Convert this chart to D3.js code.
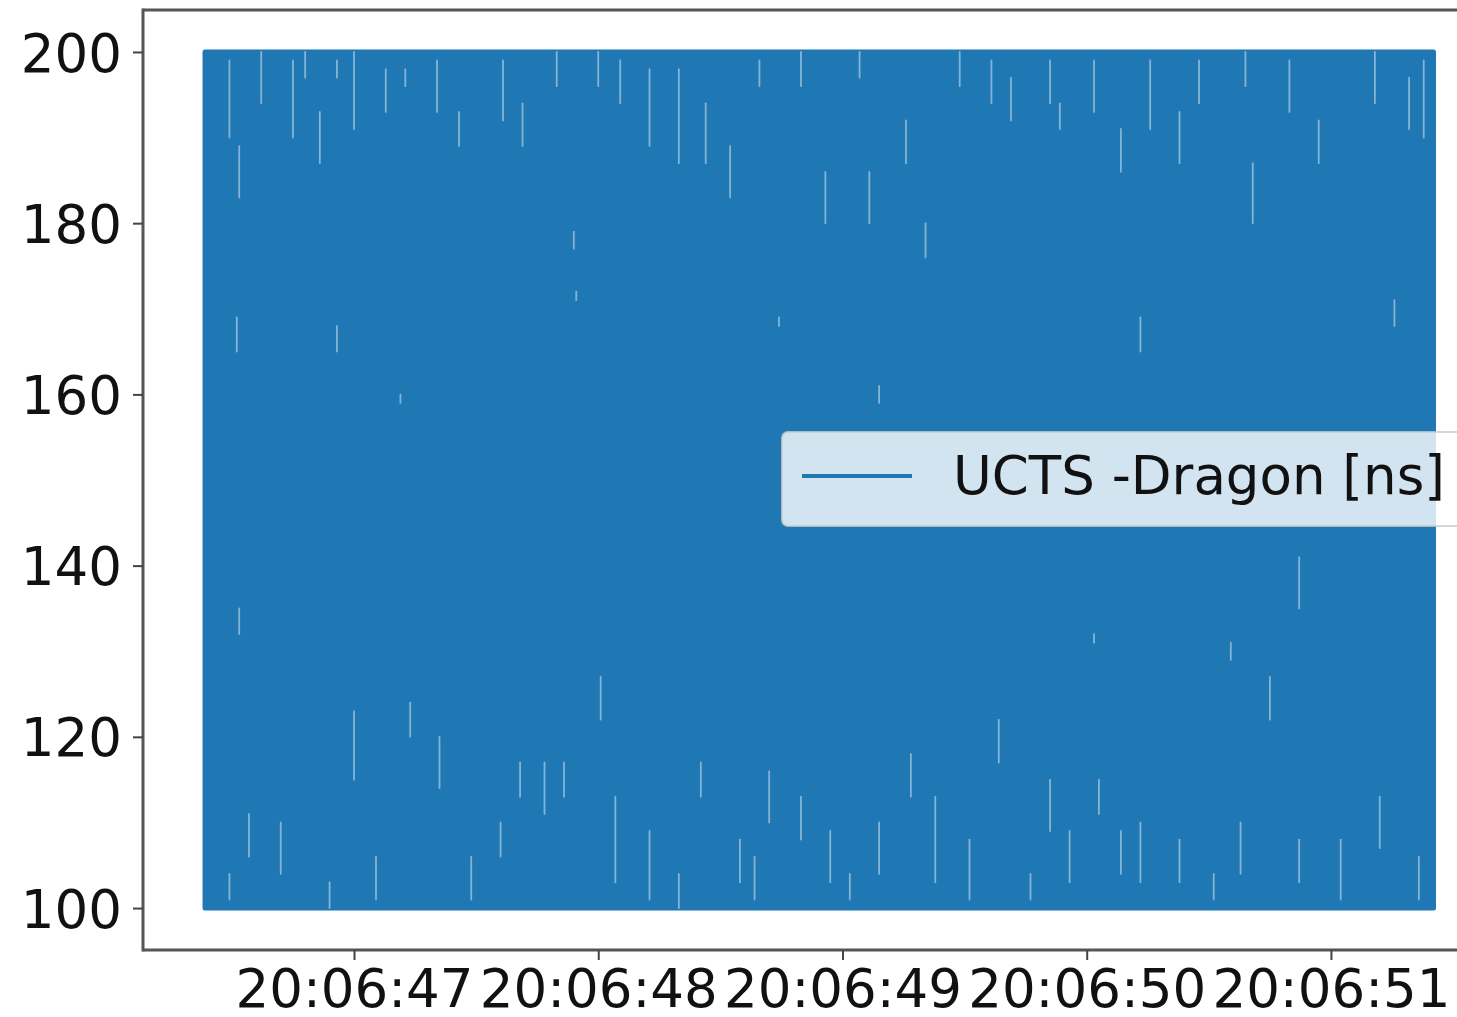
<!DOCTYPE html>
<html>
<head>
<meta charset="utf-8">
<style>
  body { margin: 0; background: #fff; }
  text { font-family: "DejaVu Sans", sans-serif; }
</style>
</head>
<body>
<div id="container"></div>
<script src="https://cdn.jsdelivr.net/npm/d3@7"></script>
<script>

// series (seconds after 20:06:00, values in ns)
const seriesName = "UCTS -Dragon [ns]";
const envelopeSec = [46.39, 51.42];
const envelopeLow = [100, 100];
const envelopeHigh = [200, 200];

// light gaps in the dense trace: [second, low ns, high ns]
const gaps = [
  [46.49,190,199],[46.53,183,189],[46.62,194,200],[46.75,190,199],[46.80,197,200],
  [46.86,187,193],[46.93,197,199],[47.00,191,200],[47.13,193,198],[47.21,196,198],
  [47.34,193,199],[47.43,189,193],[47.61,192,199],[47.69,189,194],[47.83,196,200],
  [47.90,177,179],[48.00,196,200],[48.09,194,199],[48.21,189,198],[48.33,187,198],
  [48.44,187,194],[48.54,183,189],[48.66,196,199],[48.83,196,200],[48.93,180,186],
  [49.07,197,200],[49.11,180,186],[49.26,187,192],[49.34,176,180],[49.48,196,200],
  [49.61,194,199],[49.69,192,197],[49.85,194,199],[49.89,191,194],[50.03,193,199],
  [50.14,186,191],[50.26,191,199],[50.38,187,193],[50.46,194,199],[50.65,196,200],
  [50.68,180,187],[50.83,193,199],[50.95,187,192],[51.18,194,200],[51.32,191,197],
  [51.38,190,199],
  [46.52,165,169],[46.53,132,135],[46.93,165,168],[47.91,171,172],[48.74,168,169],
  [50.22,165,169],[51.26,168,171],[50.87,135,141],[50.03,131,132],[50.59,129,131],
  [47.19,159,160],[49.15,159,161],
  [46.49,101,104],[46.57,106,111],[46.70,104,110],[46.90,100,103],[47.00,115,123],
  [47.09,101,106],[47.23,120,124],[47.35,114,120],[47.48,101,106],[47.60,106,110],
  [47.68,113,117],[47.78,111,117],[47.86,113,117],[48.01,122,127],[48.07,103,113],
  [48.21,101,109],[48.33,100,104],[48.42,113,117],[48.58,103,108],[48.64,101,106],
  [48.70,110,116],[48.83,108,113],[48.95,103,109],[49.03,101,104],[49.15,104,110],
  [49.28,113,118],[49.38,103,113],[49.52,101,108],[49.64,117,122],[49.77,101,104],
  [49.85,109,115],[49.93,103,109],[50.05,111,115],[50.14,104,109],[50.22,103,110],
  [50.38,103,108],[50.52,101,104],[50.63,104,110],[50.75,122,127],[50.87,103,108],
  [51.04,101,108],[51.20,107,113],[51.36,101,106]
];

const yTicks = [100, 120, 140, 160, 180, 200];
const xTickSec = [47, 48, 49, 50, 51];

const width = 1457, height = 1017;
const fs = 53;
const blue = "#1f77b4";
const at = s => new Date(Date.UTC(2020, 0, 1, 20, 6, 0) + s * 1000);

const mLeft = 143, mTop = 10, mBottom = 950, mRight = 1497;

const x = d3.scaleUtc().domain([at(46.136), at(51.68)]).range([mLeft, mRight]);
const y = d3.scaleLinear().domain([95.1, 204.9]).range([mBottom, mTop]);

const svg = d3.create("svg").attr("width", width).attr("height", height);

svg.append("clipPath").attr("id", "plot")
  .append("rect").attr("x", mLeft).attr("y", mTop)
  .attr("width", mRight - mLeft).attr("height", mBottom - mTop);

const env = envelopeSec.map((s, i) => ({ t: at(s), lo: envelopeLow[i], hi: envelopeHigh[i] }));

const area = d3.area().x(d => x(d.t)).y0(d => y(d.lo)).y1(d => y(d.hi));

const plot = svg.append("g").attr("clip-path", "url(#plot)");

plot.append("path").datum(env)
  .attr("d", area)
  .attr("fill", blue)
  .attr("stroke", blue)
  .attr("stroke-width", 5)
  .attr("stroke-linejoin", "round");

plot.selectAll("line.gap").data(gaps).enter().append("line")
  .attr("class", "gap")
  .attr("x1", d => x(at(d[0]))).attr("x2", d => x(at(d[0])))
  .attr("y1", d => y(d[1])).attr("y2", d => y(d[2]))
  .attr("stroke", "#ffffff")
  .attr("stroke-width", 1.8)
  .attr("stroke-linecap", "round")
  .attr("opacity", 0.45);

// spines
const spine = svg.append("g").attr("stroke", "#555").attr("stroke-width", 3);
spine.append("line").attr("x1", mLeft).attr("x2", mLeft).attr("y1", mTop - 1.5).attr("y2", mBottom + 1.5);
spine.append("line").attr("x1", mLeft).attr("x2", mRight).attr("y1", mTop).attr("y2", mTop);
spine.append("line").attr("x1", mLeft).attr("x2", mRight).attr("y1", mBottom).attr("y2", mBottom);
spine.append("line").attr("x1", mRight).attr("x2", mRight).attr("y1", mTop).attr("y2", mBottom);

// axes
const yAxis = svg.append("g").attr("transform", `translate(${mLeft},0)`)
  .call(d3.axisLeft(y).tickValues(yTicks).tickSize(10).tickPadding(11));

const xAxis = svg.append("g").attr("transform", `translate(0,${mBottom})`)
  .call(d3.axisBottom(x).tickValues(xTickSec.map(at))
    .tickFormat(d3.utcFormat("%H:%M:%S")).tickSize(10).tickPadding(10));

[yAxis, xAxis].forEach(g => {
  g.select(".domain").remove();
  g.selectAll(".tick line").attr("stroke", "#444").attr("stroke-width", 2);
  g.selectAll(".tick text").attr("fill", "#111")
    .style("font-family", "'DejaVu Sans', sans-serif").style("font-size", fs + "px");
});
yAxis.selectAll(".tick text").attr("dy", "0.36em");
xAxis.selectAll(".tick text").attr("dy", "0.69em");

// legend
const lg = svg.append("g");
lg.append("rect")
  .attr("x", 782).attr("y", 432).attr("width", 720).attr("height", 94)
  .attr("rx", 6)
  .attr("fill", "#ffffff").attr("fill-opacity", 0.8)
  .attr("stroke", "#cccccc").attr("stroke-opacity", 0.8).attr("stroke-width", 2);
lg.append("line")
  .attr("x1", 802).attr("x2", 912).attr("y1", 476).attr("y2", 476)
  .attr("stroke", blue).attr("stroke-width", 4);
lg.append("text")
  .attr("x", 953).attr("y", 494)
  .attr("fill", "#111")
  .style("font-size", fs + "px")
  .text(seriesName);

container.append(svg.node());

</script>
</body>
</html>
